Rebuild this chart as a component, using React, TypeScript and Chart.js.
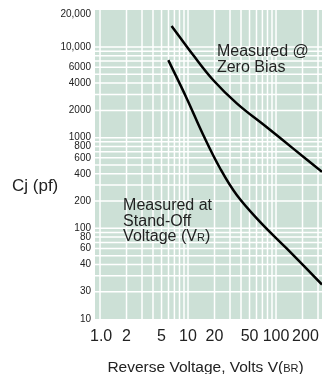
import React, { useEffect, useRef } from "react";
import { Chart, registerables } from "chart.js";

Chart.register(...registerables);

// Axis ticks (labels as printed on the original chart)
const voltageTicks = [1.03, 2, 5, 10, 20, 50, 100, 216];
const voltageTickLabels = ["1.0", "2", "5", "10", "20", "50", "100", "200"];
const capTicks = [10, 20, 40, 60, 80, 100, 200, 400, 600, 800, 1000, 2000, 4000, 6000, 10000, 23100];
const capTickLabels = ["10", "30", "40", "60", "80", "100", "200", "400", "600", "800", "1000", "2000", "4000", "6000", "10,000", "20,000"];

// Series: Measured @ Zero Bias
const zeroBiasVolts = [6.5, 11.5, 19.4, 35.8, 78, 157, 333];
const zeroBiasCj = [17100, 8100, 4300, 2390, 1310, 757, 420];

// Series: Measured at Stand-Off Voltage (VR)
const standOffVolts = [5.97, 9.67, 14.9, 23.1, 35.8, 65.8, 132, 333];
const standOffCj = [7170, 2710, 1070, 460, 233, 118, 60, 24];

const FONT = "'Liberation Sans', Arial, Helvetica, sans-serif";
const TEXT = "#222";

type Part = { t: string; s: number };

function drawRich(ctx: CanvasRenderingContext2D, parts: Part[], x: number, y: number, align: "left" | "center") {
  let total = 0;
  for (const p of parts) {
    ctx.font = `${p.s}px ${FONT}`;
    total += ctx.measureText(p.t).width;
  }
  let cx = align === "center" ? x - total / 2 : x;
  ctx.textAlign = "left";
  ctx.textBaseline = "alphabetic";
  for (const p of parts) {
    ctx.font = `${p.s}px ${FONT}`;
    ctx.fillText(p.t, cx, y);
    cx += ctx.measureText(p.t).width;
  }
}

const bgGridPlugin = {
  id: "bgGrid",
  beforeDatasetsDraw(chart: any) {
    const { ctx, chartArea: a, scales } = chart;
    const xs = scales.x;
    const ys = scales.y;
    ctx.save();
    ctx.fillStyle = "rgb(204,224,214)";
    ctx.fillRect(a.left, a.top, a.right - a.left, a.bottom - a.top);
    ctx.strokeStyle = "#ffffff";
    ctx.lineWidth = 1.5;
    ctx.beginPath();
    for (const d of [1, 10, 100]) {
      for (let m = 1; m <= 9; m++) {
        const v = d * m;
        if (v <= xs.min || v >= xs.max) continue;
        const px = xs.getPixelForValue(v);
        ctx.moveTo(px, a.top);
        ctx.lineTo(px, a.bottom);
      }
    }
    for (const d of [10, 100, 1000]) {
      for (let m = 1; m <= 9; m++) {
        const v = d * m;
        if (v <= ys.min || v >= ys.max) continue;
        const py = ys.getPixelForValue(v);
        ctx.moveTo(a.left, py);
        ctx.lineTo(a.right, py);
      }
    }
    const p10k = ys.getPixelForValue(10000);
    ctx.moveTo(a.left, p10k);
    ctx.lineTo(a.right, p10k);
    ctx.stroke();
    ctx.restore();
  },
  afterDraw(chart: any) {
    const { ctx, scales } = chart;
    const xs = scales.x;
    const ys = scales.y;
    ctx.save();
    ctx.fillStyle = TEXT;
    // Zero bias annotation
    const zx = xs.getPixelForValue(21.3);
    const zy = ys.getPixelForValue(7950);
    drawRich(ctx, [{ t: "Measured @", s: 16 }], zx, zy, "left");
    drawRich(ctx, [{ t: "Zero Bias", s: 16 }], zx, zy + 16, "left");
    // Stand-off annotation
    const sx = xs.getPixelForValue(1.83);
    const sy = ys.getPixelForValue(159);
    drawRich(ctx, [{ t: "Measured at", s: 16 }], sx, sy, "left");
    drawRich(ctx, [{ t: "Stand-Off", s: 16 }], sx, sy + 15.5, "left");
    drawRich(ctx, [{ t: "Voltage (V", s: 16 }, { t: "R", s: 11 }, { t: ")", s: 16 }], sx, sy + 31, "left");
    // Axis titles
    drawRich(ctx, [{ t: "Cj (pf)", s: 17 }], 12, 191, "left");
    const midX = (chart.chartArea.left + chart.chartArea.right) / 2 - 3;
    drawRich(
      ctx,
      [{ t: "Reverse Voltage, Volts V(", s: 15.5 }, { t: "BR", s: 11 }, { t: ")", s: 15.5 }],
      midX,
      371.5,
      "center"
    );
    ctx.restore();
  },
};

export default function App() {
  const ref = useRef<HTMLCanvasElement | null>(null);

  useEffect(() => {
    document.body.style.margin = "0";
    const canvas = ref.current;
    if (!canvas) return;
    const chart = new Chart(canvas, {
      type: "line",
      data: {
        datasets: [
          {
            label: "Measured @ Zero Bias",
            data: zeroBiasVolts.map((v, i) => ({ x: v, y: zeroBiasCj[i] })),
            borderColor: "#000",
            borderWidth: 2.5,
            pointRadius: 0,
            fill: false,
            tension: 0.4,
          },
          {
            label: "Measured at Stand-Off Voltage (VR)",
            data: standOffVolts.map((v, i) => ({ x: v, y: standOffCj[i] })),
            borderColor: "#000",
            borderWidth: 2.5,
            pointRadius: 0,
            fill: false,
            tension: 0.4,
          },
        ],
      },
      options: {
        responsive: false,
        animation: false,
        layout: { padding: { top: 10, left: 0, right: 0, bottom: 0 } },
        plugins: { legend: { display: false }, tooltip: { enabled: false } },
        scales: {
          x: {
            type: "logarithmic",
            min: 0.877,
            max: 333,
            grid: { display: false, drawTicks: false },
            border: { display: false },
            afterBuildTicks: (s: any) => {
              s.ticks = voltageTicks.map((v) => ({ value: v }));
            },
            afterFit: (s: any) => {
              s.height = 55;
              s.paddingLeft = 0;
              s.paddingRight = 0;
            },
            ticks: {
              autoSkip: false,
              maxRotation: 0,
              minRotation: 0,
              padding: 8,
              color: TEXT,
              font: { family: FONT, size: 16 },
              callback: (v: any) => {
                const i = voltageTicks.indexOf(Number(v));
                return i >= 0 ? voltageTickLabels[i] : "";
              },
            },
          },
          y: {
            type: "logarithmic",
            min: 10,
            max: 25600,
            grid: { display: false, drawTicks: false },
            border: { display: false },
            afterBuildTicks: (s: any) => {
              s.ticks = capTicks.map((v) => ({ value: v }));
            },
            afterFit: (s: any) => {
              s.width = 95;
              s.paddingTop = 0;
              s.paddingBottom = 0;
            },
            ticks: {
              autoSkip: false,
              padding: 4,
              color: TEXT,
              font: { family: FONT, size: 10 },
              callback: (v: any) => {
                const i = capTicks.indexOf(Number(v));
                return i >= 0 ? capTickLabels[i] : "";
              },
            },
          },
        },
      },
      plugins: [bgGridPlugin],
    } as any);
    return () => chart.destroy();
  }, []);

  return <canvas ref={ref} width={322} height={374} style={{ display: "block", width: 322, height: 374 }} />;
}
